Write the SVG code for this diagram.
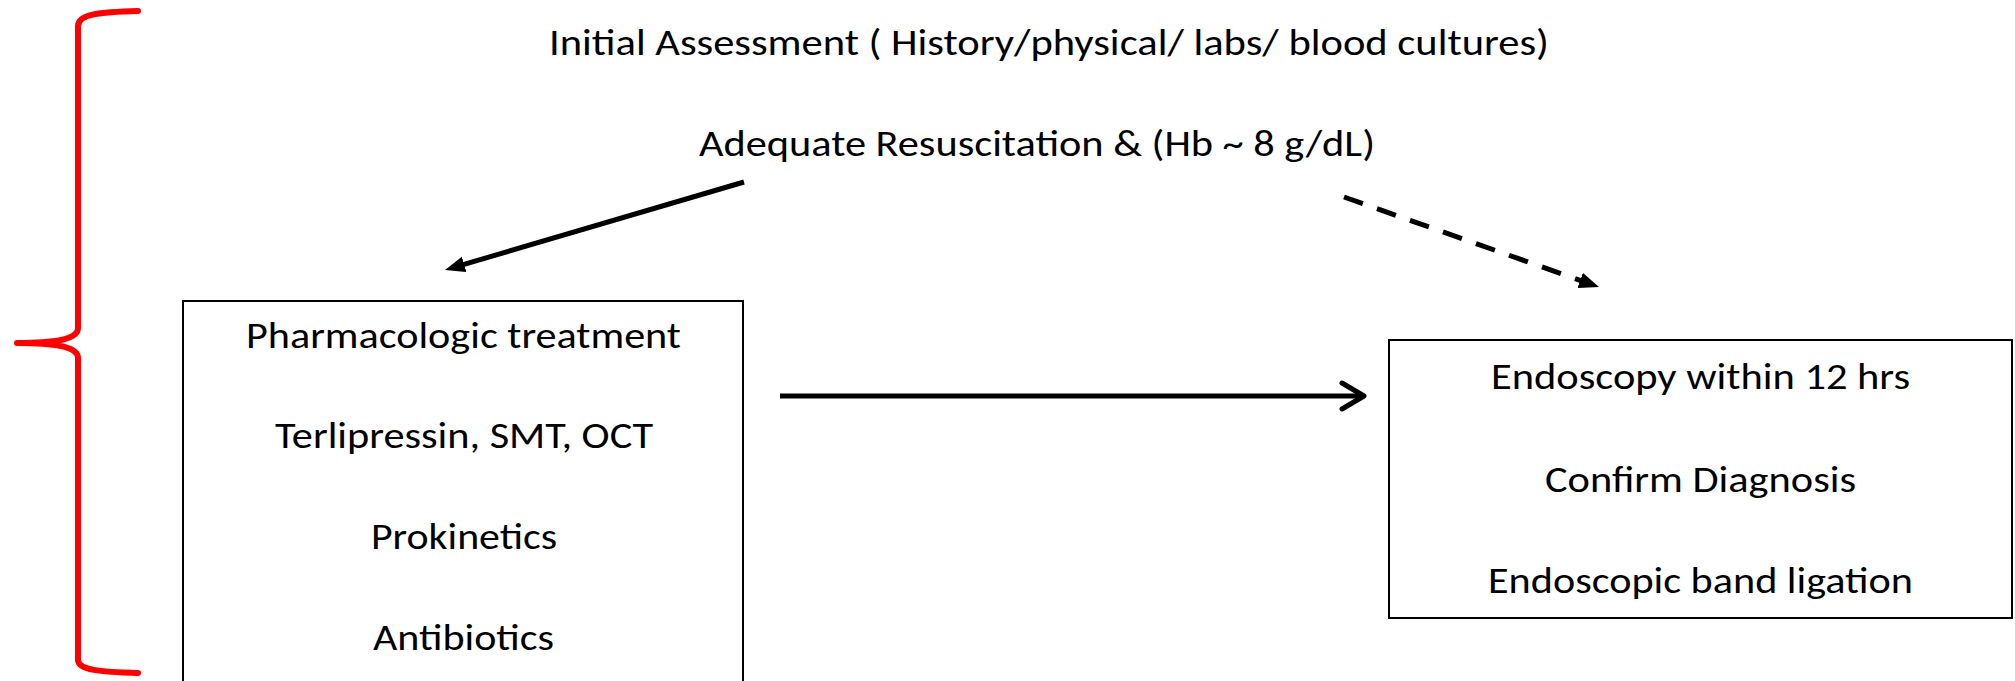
<svg xmlns="http://www.w3.org/2000/svg" width="2015" height="681" viewBox="0 0 2015 681">
  <style>
    .t { font-family: Carlito, Lato, "Liberation Sans", sans-serif; font-size: 37px; fill: #000; }
    .box { fill: #fff; stroke: #000; stroke-width: 2; }
    .conn { stroke: #000; stroke-width: 5; fill: none; }
    .brace { stroke: #ff0000; stroke-width: 6; fill: none; stroke-linecap: round; stroke-linejoin: round; }
  </style>
  <defs>
    <marker id="tri" viewBox="0 0 20 16" refX="10" refY="8" markerWidth="20" markerHeight="16" markerUnits="userSpaceOnUse" orient="auto">
      <path d="M0,0 L20,8 L0,16 z" fill="#000"/>
    </marker>
  </defs>
  <rect width="2015" height="681" fill="#fff"/>

  <g id="brace">
    <path class="brace" d="M138,11 C100,12 78,14 78,26 L78,328 C78,338 60,343 17,343 C60,343 78,348 78,358 L78,660 C78,670 100,672 138,673"/>
  </g>

  <g id="initial-assessment">
    <text class="t" x="549" y="55" textLength="1000" lengthAdjust="spacingAndGlyphs">Initial Assessment ( History/physical/ labs/ blood cultures)</text>
  </g>

  <g id="resuscitation">
    <text class="t" x="699" y="156" textLength="676" lengthAdjust="spacingAndGlyphs">Adequate Resuscitation &amp; (Hb ~ 8 g/dL)</text>
  </g>

  <g id="pharmacologic">
    <rect class="box" x="183" y="301" width="560" height="400"/>
    <text class="t" x="246" y="348" textLength="435" lengthAdjust="spacingAndGlyphs">Pharmacologic treatment</text>
    <text class="t" x="275" y="448" textLength="378" lengthAdjust="spacingAndGlyphs">Terlipressin, SMT, OCT</text>
    <text class="t" x="371" y="549" textLength="186" lengthAdjust="spacingAndGlyphs">Prokinetics</text>
    <text class="t" x="373" y="650" textLength="181" lengthAdjust="spacingAndGlyphs">Antibiotics</text>
  </g>

  <g id="endoscopy">
    <rect class="box" x="1389" y="340" width="623" height="278"/>
    <text class="t" x="1491" y="389" textLength="419" lengthAdjust="spacingAndGlyphs">Endoscopy within 12 hrs</text>
    <text class="t" x="1545" y="492" textLength="311" lengthAdjust="spacingAndGlyphs">Confirm Diagnosis</text>
    <text class="t" x="1488" y="593" textLength="425" lengthAdjust="spacingAndGlyphs">Endoscopic band ligation</text>
  </g>

  <g id="connectors">
    <line class="conn" x1="744" y1="182" x2="454.6" y2="267.2" marker-end="url(#tri)"/>
    <line class="conn" x1="1344" y1="197" x2="1589.6" y2="283.7" stroke-dasharray="20 15" marker-end="url(#tri)"/>
    <line class="conn" x1="780" y1="396" x2="1362" y2="396"/>
    <polyline class="conn" points="1342,383 1364,396 1342,409" stroke-linecap="round" stroke-linejoin="round"/>
  </g>
</svg>
